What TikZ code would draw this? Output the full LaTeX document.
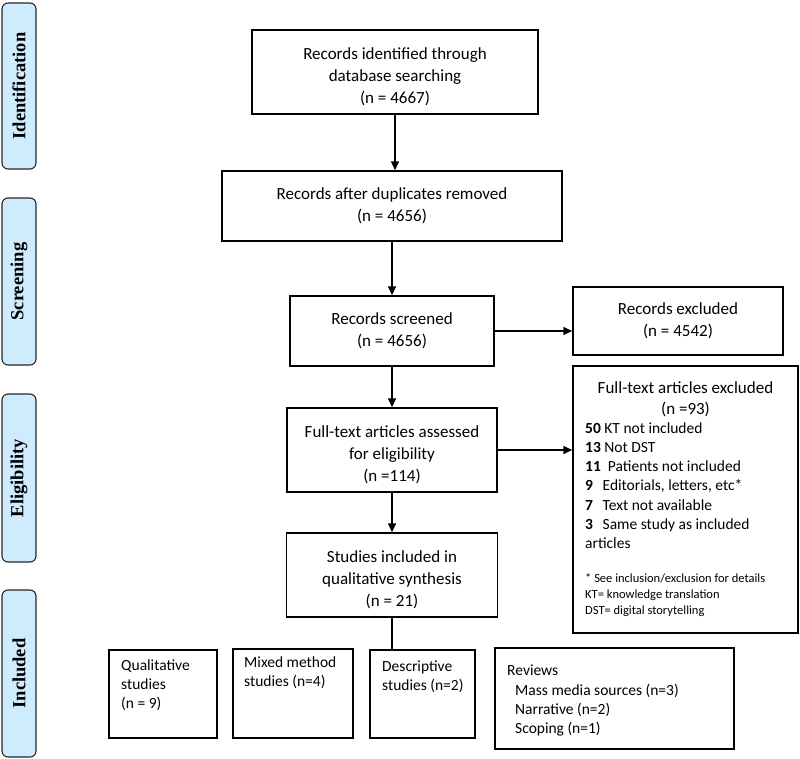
\documentclass[tikz,border=0pt]{standalone}
\usepackage{fontspec}
\setmainfont{Carlito}
\newfontfamily\sidefont{Liberation Serif}
\usetikzlibrary{arrows.meta,calc}
\definecolor{sideblue}{RGB}{206,236,253}
\newcommand{\toppad}{\rule{0pt}{21pt}}
\begin{document}
\begin{tikzpicture}[x=1pt,y=-1pt,
  box/.style={draw=black, line width=1.5pt, inner sep=0pt, align=center,
    font=\fontsize{17}{21.8}\selectfont},
  plain/.style={draw=black, line width=1.5pt, inner sep=0pt},
  side/.style={draw=black!85, line width=1.1pt, fill=sideblue, rounded corners=6pt,
    inner sep=0pt, minimum height=34pt, rotate=90,
    font=\sidefont\bfseries\fontsize{18.5}{20}\selectfont},
  arr/.style={line width=1.5pt, -{Triangle[length=9pt,width=8pt]}},
  ln/.style={line width=1.5pt},
  small/.style={inner sep=0pt, align=left, font=\fontsize{15.5}{19.2}\selectfont}]
\useasboundingbox (0,0) rectangle (800,758);
% side labels
\node[side, minimum width=166pt] (sid) at (19,86) {Identification};
\node[side, minimum width=167pt] (ssc) at (19,281.5) {Screening};
\node[side, minimum width=168pt] (sel) at (19,478) {Eligibility};
\node[side, minimum width=167pt] (sin) at (19,673.5) {Included};
% main boxes
\node[box, minimum width=286pt, minimum height=84pt] (b1) at (395,72)
  {\toppad Records identified through\\database searching\\(n = 4667)};
\node[box, minimum width=340pt, minimum height=70pt] (b2) at (392,206)
  {Records after duplicates removed\\(n = 4656)};
\node[box, minimum width=204pt, minimum height=70pt] (b3) at (392,331)
  {Records screened\\(n = 4656)};
\node[box, minimum width=210pt, minimum height=84pt] (b4) at (392,450)
  {\toppad Full-text articles assessed\\for eligibility\\(n =114)};
\node[box, minimum width=211pt, minimum height=84pt] (b5) at (392,575)
  {\toppad Studies included in\\qualitative synthesis\\(n = 21)};
\node[box, minimum width=210pt, minimum height=68pt] (ex1) at (678,321)
  {Records excluded\\(n = 4542)};
\node[plain, minimum width=225pt, minimum height=267pt] (ex2) at (685.5,499.5) {};
\node[inner sep=0pt, align=center, anchor=base, font=\fontsize{17}{20.5}\selectfont] (ex2h)
  at (685.5,414) {Full-text articles excluded\\(n =93)};
\node[small, anchor=base west] (ex2l) at (585,548.5)
  {\textbf{50} KT not included\\
   \textbf{13} Not DST\\
   \textbf{11}\ \ Patients not included\\
   \textbf{9}\ \ \,Editorials, letters, etc*\\
   \textbf{7}\ \ \,Text not available\\
   \textbf{3}\ \ \,Same study as included\\
   articles};
\node[inner sep=0pt, align=left, anchor=base west, font=\fontsize{12.5}{16}\selectfont] (ex2n)
  at (585,614.5)
  {* See inclusion/exclusion for details\\KT= knowledge translation\\DST= digital storytelling};
% bottom boxes
\node[plain, anchor=north west, minimum width=108pt, minimum height=88pt] (q) at (108,649) {};
\node[small, anchor=base west] (qt) at (121,708.5) {Qualitative\\studies\\(n = 9)};
\node[plain, anchor=north west, minimum width=120pt, minimum height=89pt] (m) at (232,648) {};
\node[small, anchor=base west] (mt) at (244,686.5) {Mixed method\\studies (n=4)};
\node[plain, anchor=north west, minimum width=105pt, minimum height=88pt] (d) at (369,649) {};
\node[small, anchor=base west] (dt) at (382,690.5) {Descriptive\\studies (n=2)};
\node[plain, anchor=north west, minimum width=239pt, minimum height=101pt] (r) at (494,647) {};
\node[small, anchor=base west] (rt) at (507,733.5)
  {Reviews\\\hspace*{8pt}Mass media sources (n=3)\\\hspace*{8pt}Narrative (n=2)\\\hspace*{8pt}Scoping (n=1)};
% connectors
\draw[arr] (b1.south) -- (b1.south |- b2.north);
\draw[arr] (b2.south) -- (b3.north);
\draw[arr] (b3.south) -- (b4.north);
\draw[arr] (b4.south) -- (b4.south |- b5.north);
\draw[arr] (b3.east) -- (b3.east -| ex1.west);
\draw[arr] (b4.east) -- (b4.east -| ex2.west);
\draw[ln] (b5.south) -- (b5.south |- d.north);
\end{tikzpicture}
\end{document}
